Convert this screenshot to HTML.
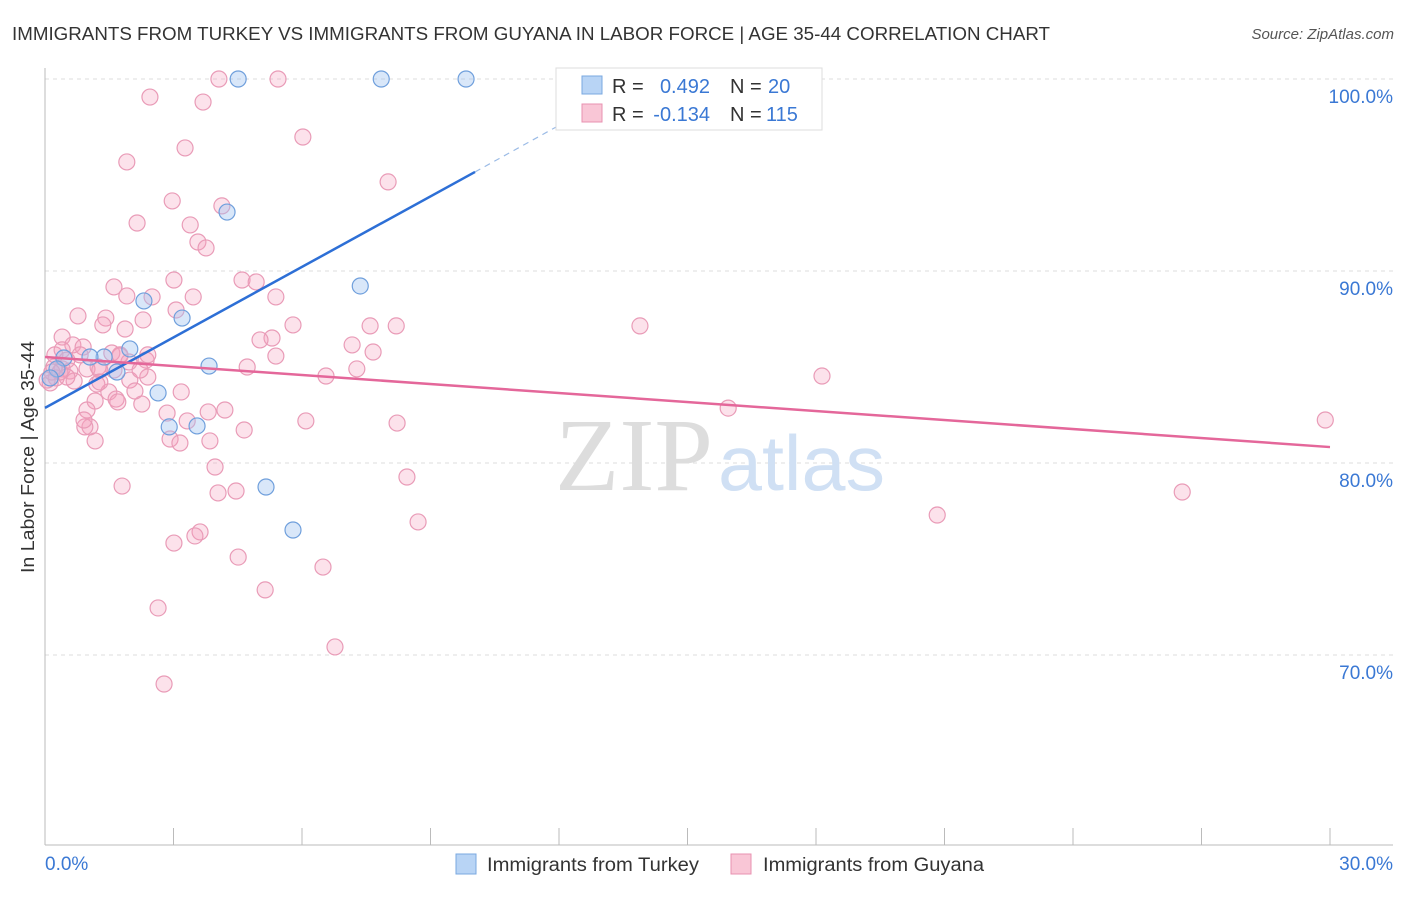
<!DOCTYPE html>
<html><head><meta charset="utf-8"><style>
body{margin:0;background:#fff;font-family:"Liberation Sans",sans-serif;}
</style></head><body>
<svg width="1406" height="892" xmlns="http://www.w3.org/2000/svg">
<text x="12" y="40" font-size="18" fill="#333" textLength="1038" lengthAdjust="spacingAndGlyphs">IMMIGRANTS FROM TURKEY VS IMMIGRANTS FROM GUYANA IN LABOR FORCE | AGE 35-44 CORRELATION CHART</text>
<text x="1394" y="39" font-size="15" fill="#555" font-style="italic" text-anchor="end">Source: ZipAtlas.com</text>
<g id="grid"></g>
<text x="555" y="490" font-size="104" fill="#ddd" textLength="158" lengthAdjust="spacingAndGlyphs" font-family="Liberation Serif">ZIP</text>
<text x="718" y="490" font-size="78" fill="#d0e0f4" textLength="167" lengthAdjust="spacingAndGlyphs">atlas</text>
<g id="axes"></g>
<g id="pts"></g>
<g id="trend"></g>
<text transform="translate(34,457) rotate(-90)" font-size="18" fill="#333" text-anchor="middle" textLength="232" lengthAdjust="spacingAndGlyphs">In Labor Force | Age 35-44</text>
<g>
<rect x="556" y="68" width="266" height="62" fill="#fff" stroke="#ddd"/>
<rect x="582" y="76" width="20" height="18" fill="#b8d4f5" stroke="#7aa8e0"/>
<rect x="582" y="104" width="20" height="18" fill="#f9c6d6" stroke="#e891b0"/>
<text x="612" y="93" font-size="20" fill="#333">R =</text>
<text x="710" y="93" font-size="20" fill="#3a78d4" text-anchor="end">0.492</text>
<text x="730" y="93" font-size="20" fill="#333">N =</text>
<text x="768" y="93" font-size="20" fill="#3a78d4">20</text>
<text x="612" y="121" font-size="20" fill="#333">R =</text>
<text x="710" y="121" font-size="20" fill="#3a78d4" text-anchor="end">-0.134</text>
<text x="730" y="121" font-size="20" fill="#333">N =</text>
<text x="766" y="121" font-size="20" fill="#3a78d4">115</text>
</g>
<g>
<rect x="456" y="854" width="20" height="20" fill="#b8d4f5" stroke="#7aa8e0"/>
<text x="487" y="871" font-size="19" fill="#333" textLength="212" lengthAdjust="spacingAndGlyphs">Immigrants from Turkey</text>
<rect x="731" y="854" width="20" height="20" fill="#f9c6d6" stroke="#e891b0"/>
<text x="763" y="871" font-size="19" fill="#333" textLength="221" lengthAdjust="spacingAndGlyphs">Immigrants from Guyana</text>
</g>
</svg>
<script>
const yTicks=[100,90,80,70];
const yTickLabels=["100.0%","90.0%","80.0%","70.0%"];
const xEndLabels=["0.0%","30.0%"];
const turkeyX=[4.51,7.85,9.83,4.25,7.36,2.31,3.20,1.98,1.38,0.44,1.05,1.68,3.83,2.64,2.90,3.55,5.16,5.79,0.28,0.12];
const turkeyY=[100,100,100,93.07,89.22,88.44,87.55,85.94,85.52,85.47,85.52,84.74,85.05,83.65,81.88,81.93,78.75,76.51,84.90,84.43];
const guyanaX=[4.06,5.44,2.45,3.69,6.02,3.27,1.91,8.01,2.97,4.13,2.15,3.39,3.57,3.76,3.01,4.60,4.93,1.61,1.91,2.50,3.46,5.39,3.06,2.29,0.77,1.42,5.79,1.35,1.87,7.59,8.20,13.89,0.40,5.30,5.02,7.17,0.65,0.89,7.66,5.39,1.56,1.75,2.36,1.96,1.24,4.72,7.28,0.21,0.40,0.58,0.98,1.28,0.26,0.12,0.68,0.51,2.40,1.98,6.56,18.14,1.21,3.18,1.49,1.66,1.17,1.70,2.26,0.98,2.85,3.81,4.20,15.95,29.89,6.09,8.22,3.32,1.05,0.93,4.65,2.92,3.15,3.85,1.17,3.97,8.45,1.80,4.04,4.46,26.55,20.83,8.71,3.62,3.50,3.01,4.51,6.49,5.14,2.64,6.77,2.78,0.23,0.82,0.51,0.35,0.16,0.91,1.61,2.10,2.40,1.75,2.22,1.28,0.05,0.40];
const guyanaY=[100,100,99.06,98.80,96.98,96.41,95.68,94.64,93.65,93.39,92.50,92.40,91.51,91.20,89.53,89.53,89.43,89.17,88.70,88.65,88.65,88.65,87.97,87.45,87.66,87.55,87.19,87.19,86.98,87.14,87.14,87.14,86.56,86.51,86.41,86.15,86.15,86.04,85.78,85.57,85.73,85.57,85.36,85.26,85.0,85.0,84.90,85.0,84.90,84.79,84.90,84.84,84.43,84.17,84.27,84.48,84.48,84.32,84.53,84.53,84.11,83.70,83.70,83.33,83.23,83.18,83.07,82.76,82.60,82.66,82.76,82.86,82.24,82.19,82.08,82.19,81.88,81.88,81.72,81.25,81.04,81.15,81.15,79.79,79.27,78.80,78.44,78.54,78.49,77.29,76.93,76.41,76.20,75.83,75.10,74.58,73.39,72.45,70.42,68.49,85.63,85.63,85.36,84.74,84.74,82.24,84.84,83.75,85.63,85.63,84.84,84.22,84.32,85.89];
const turkeyTrend=[[0,82.87],[10.04,95.16]];
const turkeyTrendDash=[[10.04,95.16],[12.5,98.2]];
const guyanaTrend=[[0,85.52],[30,80.83]];
const NS="http://www.w3.org/2000/svg";
const X0=45,X1=1330,Y100=79,PX10=192;
function sx(v){return X0+(X1-X0)*v/30;}
function sy(v){return Y100+(100-v)*PX10/10;}
function mk(t,a,p){const e=document.createElementNS(NS,t);for(const k in a)e.setAttribute(k,a[k]);p.appendChild(e);return e;}
const grid=document.getElementById('grid'),axes=document.getElementById('axes'),pts=document.getElementById('pts'),trend=document.getElementById('trend');
yTicks.forEach((t,i)=>{
 const l=mk('line',{x1:X0,x2:1393,y1:sy(t),y2:sy(t),stroke:'#ddd','stroke-dasharray':'4,4'},grid);
 
 
 const tx=mk('text',{x:1393,y:sy(t)+24,'font-size':19,fill:'#3a78d4','text-anchor':'end'},axes);
 tx.textContent=yTickLabels[i];
 
 
});
const ax=mk('line',{x1:X0,x2:X0,y1:68,y2:845,stroke:'#bbb'},axes);


const bx=mk('line',{x1:X0,x2:1393,y1:845,y2:845,stroke:'#bbb'},axes);


for(let i=0;i<=10;i++){
 const tk=mk('line',{x1:sx(i*3),x2:sx(i*3),y1:828,y2:845,stroke:'#bbb'},axes);
 
 
}
const xl0=mk('text',{x:45,y:870,'font-size':19,fill:'#3a78d4'},axes);xl0.textContent=xEndLabels[0];


const xl1=mk('text',{x:1393,y:870,'font-size':19,fill:'#3a78d4','text-anchor':'end'},axes);xl1.textContent=xEndLabels[1];


guyanaX.forEach((v,i)=>{
 const c=mk('circle',{cx:sx(v),cy:sy(guyanaY[i]),r:8,fill:'rgba(244,160,190,0.3)',stroke:'#e99bb7','stroke-width':1.2},pts);
 
 
});
turkeyX.forEach((v,i)=>{
 const c=mk('circle',{cx:sx(v),cy:sy(turkeyY[i]),r:8,fill:'rgba(160,196,240,0.4)',stroke:'#6f9fdc','stroke-width':1.2},pts);
 
 
});
const t1=mk('line',{x1:sx(turkeyTrend[0][0]),y1:sy(turkeyTrend[0][1]),x2:sx(turkeyTrend[1][0]),y2:sy(turkeyTrend[1][1]),stroke:'#2d6fd6','stroke-width':2.5},trend);


const t2=mk('line',{x1:sx(turkeyTrendDash[0][0]),y1:sy(turkeyTrendDash[0][1]),x2:sx(turkeyTrendDash[1][0]),y2:sy(turkeyTrendDash[1][1]),stroke:'#9bbbe6','stroke-width':1.2,'stroke-dasharray':'6,5'},trend);


const t3=mk('line',{x1:sx(guyanaTrend[0][0]),y1:sy(guyanaTrend[0][1]),x2:sx(guyanaTrend[1][0]),y2:sy(guyanaTrend[1][1]),stroke:'#e4679a','stroke-width':2.5},trend);


</script>
</body></html>
